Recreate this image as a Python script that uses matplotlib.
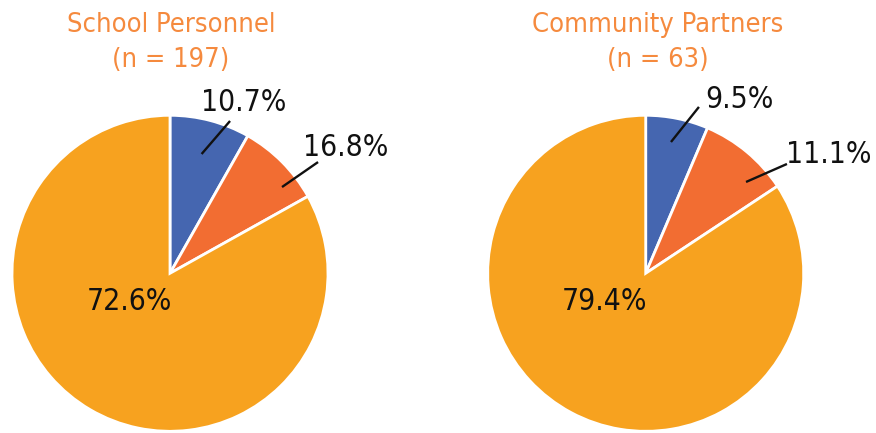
import matplotlib
matplotlib.use('Agg')
import matplotlib.pyplot as plt
from matplotlib import font_manager

# Groups and their titles
titles = ['School Personnel', 'Community Partners']
counts = [197, 63]

# Printed percentage labels (blue, orange, yellow)
labels_school = ['10.7%', '16.8%', '72.6%']
labels_partners = ['9.5%', '11.1%', '79.4%']

# Wedge shares as drawn in the picture (blue, orange, yellow)
shares_school = [8.2, 8.7, 83.1]
shares_partners = [6.4, 9.3, 84.3]

colors = ['#4566B0', '#F26D32', '#F7A21F']
title_color = '#F58A3E'

# pick a narrow face if one is installed
narrow = None
for f in font_manager.fontManager.ttflist:
    if f.style == 'normal' and f.weight in (400, 'normal') and (
            'Narrow' in f.name or 'Condensed' in f.name or f.stretch == 'condensed'):
        narrow = f
        break
if narrow is not None:
    font = dict(family=[narrow.name, 'DejaVu Sans'], stretch=narrow.stretch)
else:
    font = dict(family=['Roboto', 'DejaVu Sans'])

W, H = 876, 433
R = 158.0  # pie radius in px
fig = plt.figure(figsize=(W / 100, H / 100), dpi=100)

def add_pie(x0, x1, cx, cy, shares, labels, text_pos, leaders, title, n, tx):
    ax = fig.add_axes([x0 / W, 0, (x1 - x0) / W, 1])
    ax.pie(shares, colors=colors, startangle=90, counterclock=False, radius=1,
           wedgeprops=dict(edgecolor='white', linewidth=2))
    ax.set_aspect('auto')
    ax.set_xlim((x0 - cx) / R, (x1 - cx) / R)
    ycen = H - cy
    ax.set_ylim(-ycen / R, (H - ycen) / R)
    ax.axis('off')
    for lab, (x, y) in zip(labels, text_pos):
        ax.text(x, y, lab, ha='center', va='baseline', fontsize=21.5, color='#111111', **font)
    for (xa, ya), (xb, yb) in leaders:
        ax.plot([xa, xb], [ya, yb], color='#111111', lw=1.7, solid_capstyle='butt')
    fig.text(tx / W, (H - 32) / H, title, ha='center', va='baseline',
             fontsize=19.5, color=title_color, **font)
    fig.text(tx / W, (H - 67) / H, f'(n = {n})', ha='center', va='baseline',
             fontsize=19.5, color=title_color, **font)

add_pie(0, 438, 170, 273.3, shares_school, labels_school,
        [(0.468, 1.027), (1.114, 0.742), (-0.259, -0.232)],
        [((0.20, 0.755), (0.38, 0.964)), ((0.709, 0.546), (0.937, 0.704))],
        titles[0], counts[0], 171)
add_pie(438, 876, 645.7, 273.3, shares_partners, labels_partners,
        [(0.594, 1.046), (1.160, 0.698), (-0.258, -0.232)],
        [((0.160, 0.831), (0.337, 1.053)), ((0.635, 0.578), (0.894, 0.692))],
        titles[1], counts[1], 658)

fig.savefig('out.png', dpi=100)
